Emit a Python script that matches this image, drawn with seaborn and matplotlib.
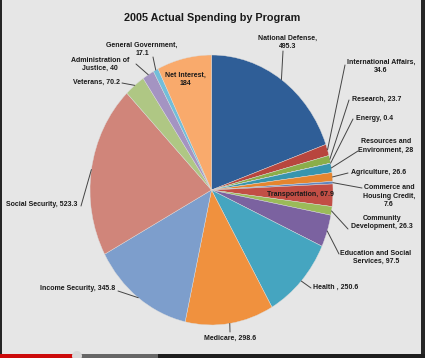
import matplotlib
matplotlib.use("Agg")
import matplotlib.pyplot as plt
import seaborn as sns
import numpy as np
from matplotlib.patches import Rectangle, Circle

sns.set_theme(style="white")
plt.rcParams['font.family'] = ['Liberation Sans', 'DejaVu Sans']

# data (billions, 2005), clockwise from 12 o'clock
programs = ["National Defense", "International Affairs", "Research", "Energy",
            "Resources and Environment", "Agriculture", "Commerce and Housing Credit",
            "Transportation", "Community Development", "Education and Social Services",
            "Health", "Medicare", "Income Security", "Social Security", "Veterans",
            "Administration of Justice", "General Government", "Net Interest"]
spending = [495.3, 34.6, 23.7, 0.4, 28, 26.6, 7.6, 67.9, 26.3, 97.5,
            250.6, 298.6, 345.8, 523.3, 70.2, 40, 17.1, 184]
label_text = ["National Defense,\n495.3", "International Affairs,\n34.6", "Research, 23.7",
              "Energy, 0.4", "Resources and\nEnvironment, 28", "Agriculture, 26.6",
              "Commerce and\nHousing Credit,\n7.6", "Transportation, 67.9",
              "Community\nDevelopment, 26.3", "Education and Social\nServices, 97.5",
              "Health , 250.6", "Medicare, 298.6", "Income Security, 345.8",
              "Social Security, 523.3", "Veterans, 70.2", "Administration of\nJustice, 40",
              "General Government,\n17.1", "Net Interest,\n184"]

colors = ["#2F5E97", "#B8463E", "#8BAE4A", "#6E5896", "#3795AE", "#E5852F",
          "#5F86BF", "#C24E45", "#9BBB59", "#7B62A0", "#45A5C0", "#F0913E",
          "#7D9ECC", "#D0857A", "#AFC784", "#A494C2", "#72BEDA", "#F9AA6C"]

# label layout in pixels: (x, y, ha, leader start or None)
layout = [(288, 42.5, "center", (283, 51)),
          (381, 66, "center", (345, 65)),
          (352, 99, "left", (349, 100)),
          (356, 118, "left", (353, 119)),
          (386, 146, "center", (358, 151)),
          (351, 172, "left", (348, 173)),
          (389, 196, "center", (362, 188)),
          (300, 195, "center", None),
          (382, 222.5, "center", (348, 229)),
          (376, 257.5, "center", (339, 254)),
          (313, 287, "left", (311, 288)),
          (230, 338, "center", (230, 332)),
          (115, 289, "right", (118, 291)),
          (77, 204, "right", (81, 206)),
          (120, 82, "right", (122, 83)),
          (100, 64.5, "center", (136, 64)),
          (142, 49.5, "center", (153, 57)),
          (185, 79.5, "center", None)]

W, H = 425, 358
cx, cy, rx, ry = 211.5, 190, 121.5, 135

fig = plt.figure(figsize=(W / 100, H / 100), dpi=100, facecolor="#262626")

# background panel + video bar
bg = fig.add_axes([0, 0, 1, 1])
bg.set_xlim(0, W)
bg.set_ylim(H, 0)
bg.axis("off")
bg.add_patch(Rectangle((2, 0), 419, 354, color="#E6E6E6", lw=0))
bg.add_patch(Rectangle((0, 354), W, 4, color="#1e1e1e", lw=0))
bg.add_patch(Rectangle((0, 354), 158, 4, color="#666666", lw=0))
bg.add_patch(Rectangle((0, 354), 74, 4, color="#CC0A0A", lw=0))
bg.add_patch(Circle((77, 356), 5, color="#d8d8d8", lw=0))

# pie
pax = fig.add_axes([(cx - rx) / W, (H - cy - ry) / H, 2 * rx / W, 2 * ry / H])
wedges, _ = pax.pie(spending, colors=colors, startangle=90, counterclock=False,
                    radius=1, wedgeprops=dict(linewidth=0.3, edgecolor="#dddddd"))
pax.set_xlim(-1, 1)
pax.set_ylim(-1, 1)
pax.set_aspect("auto")
pax.axis("off")

# text overlay
ax = fig.add_axes([0, 0, 1, 1])
ax.set_xlim(0, W)
ax.set_ylim(H, 0)
ax.axis("off")
ax.patch.set_alpha(0)

ax.text(212, 18, "2005 Actual Spending by Program", ha="center", va="center",
        fontsize=7.8, fontweight="bold", color="#1a1a1a")

for w, txt, (tx, ty, ha, start) in zip(wedges, label_text, layout):
    ax.text(tx, ty, txt, ha=ha, va="center", multialignment="center",
            fontsize=5, fontweight="bold", color="#1a1a1a", linespacing=1.25)
    if start is not None:
        mid = np.deg2rad((w.theta1 + w.theta2) / 2)
        ex = cx + rx * np.cos(mid)
        ey = cy - ry * np.sin(mid)
        ax.plot([start[0], ex], [start[1], ey], color="#444444", lw=0.7)

fig.savefig("out.png", dpi=100, facecolor=fig.get_facecolor())
